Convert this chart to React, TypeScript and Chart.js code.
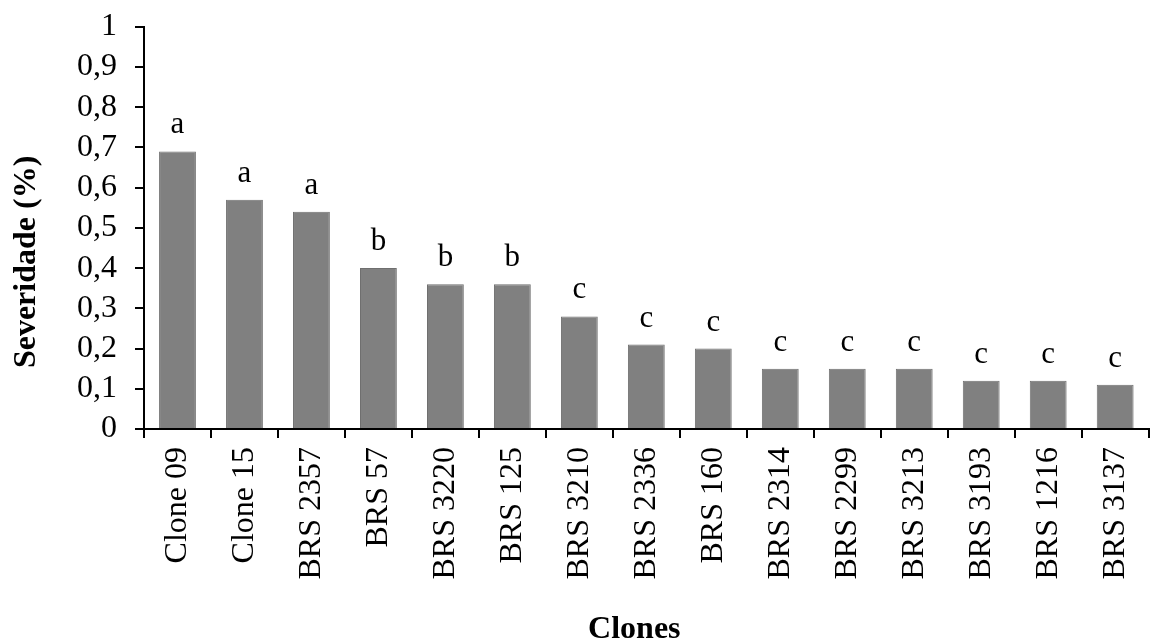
import React, { useEffect, useRef } from "react";
import { Chart, registerables } from "chart.js";

Chart.register(...registerables);

const categories = [
  "Clone 09", "Clone 15", "BRS 2357", "BRS 57", "BRS 3220", "BRS 125", "BRS 3210",
  "BRS 2336", "BRS 160", "BRS 2314", "BRS 2299", "BRS 3213", "BRS 3193", "BRS 1216", "BRS 3137",
];
const severity = [0.69, 0.57, 0.54, 0.4, 0.36, 0.36, 0.28, 0.21, 0.2, 0.15, 0.15, 0.15, 0.12, 0.12, 0.11];
const letters = ["a", "a", "a", "b", "b", "b", "c", "c", "c", "c", "c", "c", "c", "c", "c"];
const xTitle = "Clones";
const yTitle = "Severidade (%)";

const FONT = "'Liberation Serif', 'Times New Roman', serif";

const letterPlugin = {
  id: "letters",
  afterDatasetsDraw(chart: any) {
    const ctx = chart.ctx;
    const meta = chart.getDatasetMeta(0);
    ctx.save();
    ctx.font = `31px ${FONT}`;
    ctx.fillStyle = "#000";
    ctx.textAlign = "center";
    ctx.textBaseline = "alphabetic";
    meta.data.forEach((el: any, i: number) => {
      ctx.fillText(letters[i], el.x, el.y - 18);
    });
    ctx.restore();
  },
};

const titlePlugin = {
  id: "titles",
  afterDraw(chart: any) {
    const ctx = chart.ctx;
    const area = chart.chartArea;
    ctx.save();
    ctx.font = `bold 32px ${FONT}`;
    ctx.fillStyle = "#000";
    ctx.textAlign = "center";
    ctx.textBaseline = "middle";
    ctx.fillText(xTitle, area.left + (area.right - area.left) / 2 - 12, chart.height - 11);
    ctx.translate(27, area.top + (area.bottom - area.top) / 2 + 34);
    ctx.rotate(-Math.PI / 2);
    ctx.fillText(yTitle, 0, 0);
    ctx.restore();
  },
};

export default function App() {
  const ref = useRef<HTMLCanvasElement>(null);
  useEffect(() => {
    document.body.style.margin = "0";
    const chart = new Chart(ref.current!, {
      type: "bar",
      data: {
        labels: categories,
        datasets: [
          {
            data: severity,
            backgroundColor: "#808080",
            borderColor: "#6f6f6f",
            borderWidth: 1,
            barPercentage: 0.55,
            categoryPercentage: 1,
          },
        ],
      },
      options: {
        responsive: false,
        animation: false,
        layout: { padding: { top: 0, right: 13, left: 0, bottom: 0 } },
        plugins: { legend: { display: false }, tooltip: { enabled: false } },
        scales: {
          x: {
            grid: {
              display: true,
              drawOnChartArea: false,
              drawTicks: true,
              tickLength: 9,
              color: "#000",
              lineWidth: 2,
              offset: true,
            },
            border: { display: true, color: "#000", width: 2 },
            ticks: {
              minRotation: 90,
              maxRotation: 90,
              autoSkip: false,
              color: "#000",
              padding: 9,
              font: { family: FONT, size: 32 },
            },
            afterFit(scale: any) {
              scale.height = 212;
            },
          },
          y: {
            min: 0,
            max: 1,
            grid: {
              display: true,
              drawOnChartArea: false,
              drawTicks: true,
              tickLength: 9,
              color: "#000",
              lineWidth: 2,
            },
            border: { display: true, color: "#000", width: 2 },
            ticks: {
              stepSize: 0.1,
              autoSkip: false,
              color: "#000",
              padding: 18,
              font: { family: FONT, size: 32, lineHeight: 0.55 },
              callback: (v: any) => {
                const n = Math.round(Number(v) * 10) / 10;
                return String(n).replace(".", ",");
              },
            },
            afterFit(scale: any) {
              scale.width = 144;
            },
          },
        },
      },
      plugins: [letterPlugin, titlePlugin],
    });
    return () => chart.destroy();
  }, []);
  return <canvas ref={ref} width={1163} height={641} style={{ display: "block" }} />;
}
